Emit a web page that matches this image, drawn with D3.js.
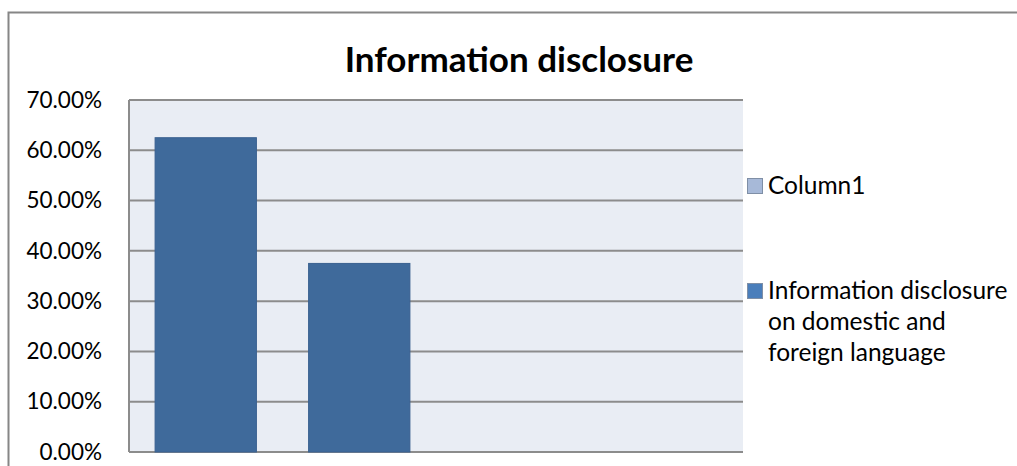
<!DOCTYPE html>
<html>
<head>
<meta charset="utf-8">
<script src="https://cdn.jsdelivr.net/npm/d3@7"></script>
<style>
  body { margin: 0; background: #fff; }
  text { font-family: Lato, "Open Sans", sans-serif; }
</style>
</head>
<body>
<div class="viewport"></div>
<script>
// chart data
var categories = ["A", "B", "C", "D"];
var disclosure = [0.625, 0.375, null, null];
var yTicks = [0, 0.1, 0.2, 0.3, 0.4, 0.5, 0.6, 0.7];
var legendItems = [
    { lines: ["Column1"], color: "#a7b9d8" },
    { lines: ["Information disclosure", "on domestic and", "foreign language"], color: "#4a7ebb" }
];

function letsGo() {

    var width = 1017,
        height = 466;

    var plot = { left: 129, top: 100, right: 743, bottom: 452 };

    var svg = d3.select(".viewport").append("svg")
        .attr("width", width)
        .attr("height", height);

    // outer chart border
    svg.append("rect")
        .attr("x", 8.5).attr("y", 12.5)
        .attr("width", 1030).attr("height", 480)
        .attr("fill", "#fff")
        .attr("stroke", "#868686")
        .attr("stroke-width", 2);

    var x = d3.scaleBand()
        .domain(categories)
        .range([plot.left, plot.right])
        .paddingInner(0.34)
        .paddingOuter(0.17);

    var y = d3.scaleLinear()
        .domain([0, 0.7])
        .range([plot.bottom, plot.top]);

    // plot background
    svg.append("rect")
        .attr("x", plot.left).attr("y", plot.top)
        .attr("width", plot.right - plot.left)
        .attr("height", plot.bottom - plot.top)
        .attr("fill", "#e9edf4");

    // gridlines
    svg.append("g")
        .selectAll("line")
        .data(yTicks)
        .enter().append("line")
        .attr("x1", plot.left).attr("x2", plot.right)
        .attr("y1", function(d) { return y(d); })
        .attr("y2", function(d) { return y(d); })
        .attr("stroke", "#8c8c8c")
        .attr("stroke-width", 2);

    // left axis line
    svg.append("line")
        .attr("x1", plot.left).attr("x2", plot.left)
        .attr("y1", plot.top).attr("y2", plot.bottom)
        .attr("stroke", "#8c8c8c")
        .attr("stroke-width", 2);

    // y axis labels
    var yAxis = d3.axisLeft(y)
        .tickValues(yTicks)
        .tickSize(0)
        .tickPadding(27)
        .tickFormat(function(d) { return (d * 100).toFixed(2) + "%"; });

    var ax = svg.append("g")
        .attr("transform", "translate(" + plot.left + ",0)")
        .call(yAxis);
    ax.select(".domain").remove();
    ax.selectAll("text")
        .attr("font-size", 22.5)
        .attr("font-family", "Lato, 'Open Sans', sans-serif")
        .attr("fill", "#000");

    // bars
    svg.append("g")
        .selectAll("rect")
        .data(categories.map(function(c, i) { return { c: c, v: disclosure[i] }; })
            .filter(function(d) { return d.v !== null; }))
        .enter().append("rect")
        .attr("x", function(d) { return x(d.c); })
        .attr("y", function(d) { return y(d.v); })
        .attr("width", x.bandwidth())
        .attr("height", function(d) { return y(0) - y(d.v); })
        .attr("fill", "#3f6a9b")
        .attr("stroke", "#3a6190")
        .attr("stroke-width", 1);

    // title
    svg.append("text")
        .attr("x", 519)
        .attr("y", 72)
        .attr("text-anchor", "middle")
        .attr("font-size", 35)
        .attr("font-weight", "bold")
        .attr("fill", "#000")
        .text("Information disclosure");

    // legend
    var legendY = [186, 291];
    var lg = svg.append("g")
        .selectAll("g")
        .data(legendItems)
        .enter().append("g")
        .attr("transform", function(d, i) { return "translate(747," + legendY[i] + ")"; });

    lg.append("rect")
        .attr("x", 0.5).attr("y", -7.5)
        .attr("width", 15).attr("height", 15)
        .attr("fill", function(d) { return d.color; })
        .attr("stroke", "#7f8fa6")
        .attr("stroke-width", 1);

    lg.selectAll("text")
        .data(function(d) { return d.lines; })
        .enter().append("text")
        .attr("x", 21)
        .attr("y", function(d, i) { return 8 + i * 31; })
        .attr("font-size", 24.5)
        .attr("fill", "#000")
        .text(function(d) { return d; });
}

letsGo();
</script>
</body>
</html>
